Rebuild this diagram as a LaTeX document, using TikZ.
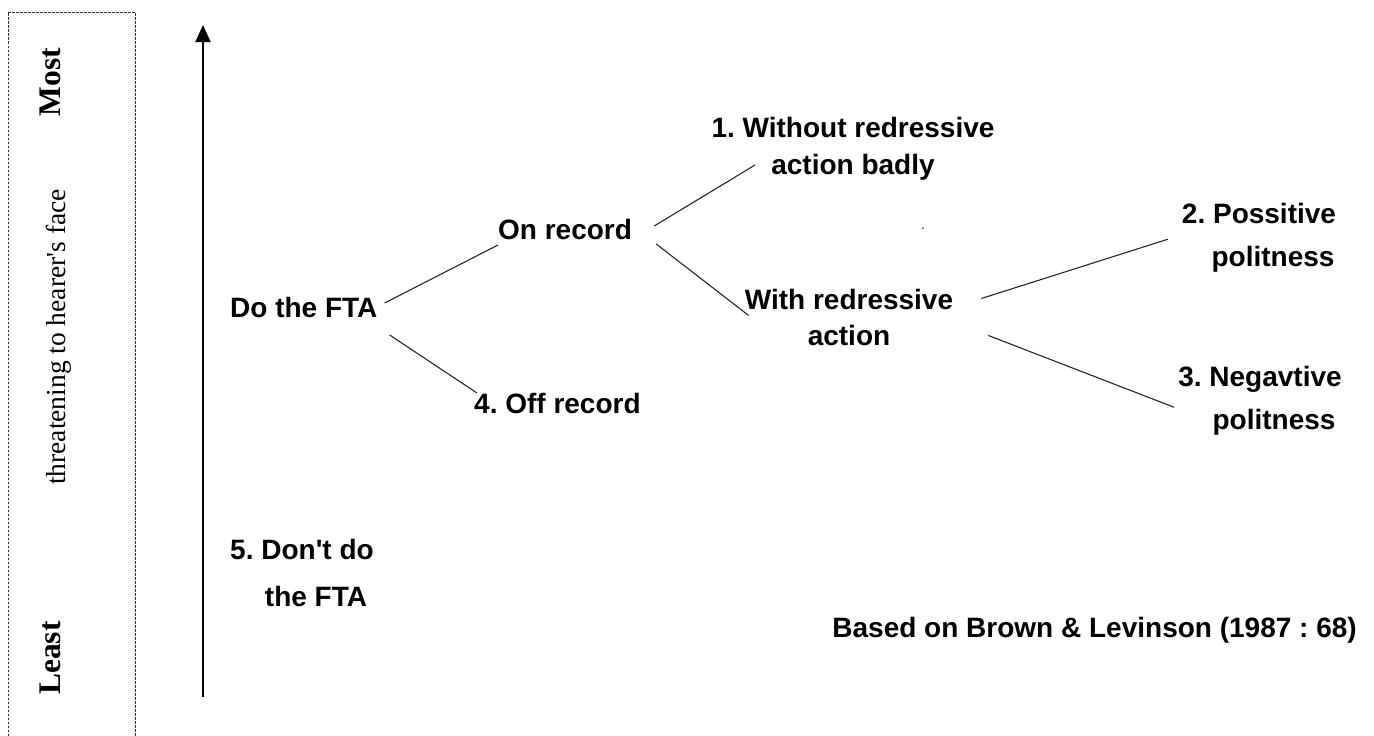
\documentclass[tikz,border=0pt]{standalone}
\usepackage{fontspec}
\setmainfont{Liberation Serif}
\newfontfamily\labfont{Liberation Sans}
\usetikzlibrary{arrows.meta}
\frenchspacing

\begin{document}
\begin{tikzpicture}[x=1pt,y=-1pt,
  lab/.style={font=\labfont\bfseries\fontsize{28}{36}\selectfont, inner sep=0pt, text=black},
  side/.style={font=\fontsize{27.5}{33}\selectfont, inner sep=0pt, rotate=90, anchor=base},
  sidebold/.style={font=\bfseries\fontsize{31.5}{36}\selectfont, inner sep=0pt, rotate=90, anchor=base},
  branch/.style={line width=1.1pt, black!85},
  frame/.style={line width=0.9pt, dash pattern=on 2.5pt off 1.5pt, black!80}
]
\useasboundingbox (0,0) rectangle (1374,736);

% dashed frame with the scale labels
\draw[frame] (8,736) -- (8,12) -- (135,12) -- (135,736);
\node[sidebold] (most) at (60,82) {Most};
\node[side] (scale) at (65,337) {threatening to hearer\textquotesingle s face};
\node[sidebold] (least) at (60,658) {Least};

% vertical axis
\coordinate (axislow) at (203,697);
\coordinate (axishigh) at (203,25);
\draw[line width=2pt, -{Triangle[length=17pt,width=15pt]}] (axislow) -- (axishigh);

% strategy labels (multi-line labels are placed by the baseline of their last line)
\node[lab, anchor=base west] (do) at (230,317) {Do the FTA};
\node[lab, anchor=base west] (on) at (498,239) {On record};
\node[lab, anchor=base west] (off) at (474,413) {4. Off record};
\node[lab, align=center, anchor=base, font=\labfont\bfseries\fontsize{28}{37}\selectfont] (wo) at (853,174) {1. Without redressive\\action badly};
\node[lab, align=center, anchor=base] (with) at (849,345) {With redressive\\action};
\node[lab, align=center, anchor=base, font=\labfont\bfseries\fontsize{28}{43}\selectfont] (pos) at (1259,266) {2. Possitive\\\hspace*{1em}politness};
\node[lab, align=center, anchor=base, font=\labfont\bfseries\fontsize{28}{43}\selectfont] (neg) at (1260,429) {3. Negavtive\\\hspace*{1em}politness};
\node[lab, align=center, anchor=base, font=\labfont\bfseries\fontsize{28}{47}\selectfont] (dont) at (302,606) {5. Don\textquotesingle t do\\\hspace*{1em}the FTA};
\node[lab, anchor=base east] (src) at (1357,637) {Based on Brown \& Levinson (1987 : 68)};

% stray mark
\fill[black!65] (922.7,228.3) circle (1.1);

% branches
\draw[branch] ([shift={(7,-14)}]do.base east) -- ([shift={(0,6)}]on.base west);
\draw[branch] ([shift={(12,18)}]do.base east) -- ([shift={(3,-20)}]off.base west);
\draw[branch] ([shift={(22,-13)}]on.base east) -- ([shift={(-98,-15)}]wo.south);
\draw[branch] ([shift={(24,5)}]on.base east) -- ([shift={(4,27)}]with.north west);
\draw[branch] ([shift={(28,10)}]with.north east) -- ([shift={(-14,2)}]pos.west);
\draw[branch] ([shift={(35,-10)}]with.south east) -- ([shift={(-4,7)}]neg.west);
\end{tikzpicture}
\end{document}
